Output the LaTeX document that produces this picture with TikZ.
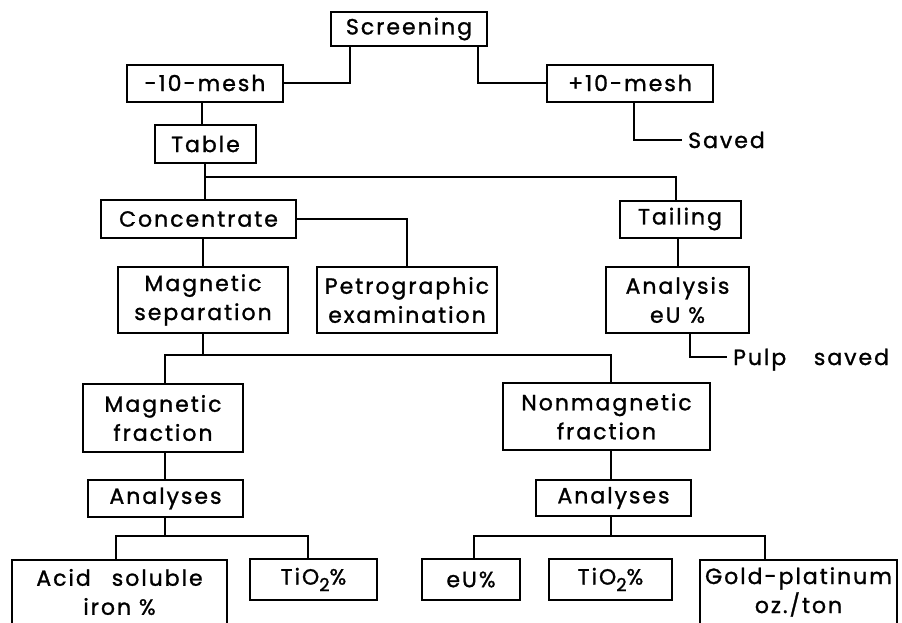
\documentclass[tikz,border=0pt]{standalone}
\usepackage{fontspec}
\usepackage{tikz}
\usetikzlibrary{positioning,calc}
\newfontfamily\letfont[LetterSpace=9,FakeBold=1.2]{Poppins}
\tikzset{
  procbox/.style={rectangle, draw=black, line width=2pt, align=center, inner sep=0pt, font=\letfont\fontsize{22}{29}\selectfont},
  freelbl/.style={inner xsep=6pt, inner ysep=0pt, text height=16pt, text depth=0pt, anchor=west, font=\letfont\fontsize{22}{29}\selectfont},
  linkline/.style={line width=2pt}
}
\newcommand{\tiox}{TiO\raisebox{-0.55ex}{\fontsize{18}{18}\selectfont 2}\%}

\begin{document}
\begin{tikzpicture}[x=1pt, y=-1pt]
\useasboundingbox (0,0) rectangle (902,622);
\clip (0,0) rectangle (902,622);
% top: screening
\node[procbox, minimum width=156pt, minimum height=34pt] (screen) at (409,29) {Screening};
\node[procbox, minimum width=156pt, minimum height=37pt] (minus) at (205,83) {-10-mesh};
\node[procbox, minimum width=166pt, minimum height=37pt] (plus) at (630,83) {+10-mesh};
\node[freelbl] (saved) at (682,140) {Saved};
\node[procbox, minimum width=101pt, minimum height=38pt] (table) at (205.5,144) {Table};
% concentrate / tailing
\node[procbox, minimum width=195pt, minimum height=38pt] (conc) at (198.5,219) {Concentrate};
\node[procbox, minimum width=121pt, minimum height=37pt] (tail) at (680,219) {Tailing};
\node[procbox, minimum width=170pt, minimum height=66pt] (magsep) at (203,300) {Magnetic\\separation};
\node[procbox, minimum width=180pt, minimum height=66pt] (petro) at (407,300) {Petrographic\\examination};
\node[procbox, minimum width=143pt, minimum height=66pt] (anal) at (677.5,300) {Analysis\\eU \%};
\node[freelbl] (pulp) at (727,357) {Pulp\hspace{0.9em} saved};
% fractions
\node[procbox, minimum width=160pt, minimum height=68pt] (magfr) at (163,418) {Magnetic\\fraction};
\node[procbox, minimum width=207pt, minimum height=67pt] (nonmag) at (606.5,416.5) {Nonmagnetic\\fraction};
\node[procbox, minimum width=155pt, minimum height=37pt] (anaL) at (165.5,498.5) {Analyses};
\node[procbox, minimum width=155pt, minimum height=36pt] (anaR) at (613.5,498) {Analyses};
% results
\node[procbox, minimum width=215pt, minimum height=64pt, anchor=north] (acid) at (119.5,559) {Acid\hspace{0.6em} soluble\\iron \%};
\node[procbox, minimum width=127pt, minimum height=41pt] (tiL) at (313.5,579.5) {\tiox};
\node[procbox, minimum width=98pt, minimum height=41pt] (eu) at (471,579.5) {eU\%};
\node[procbox, minimum width=123pt, minimum height=41pt] (tiR) at (610.5,579.5) {\tiox};
\node[procbox, minimum width=197pt, minimum height=64pt, anchor=north] (gold) at (798.5,559) {Gold-platinum\\oz./ton};
\coordinate (jT) at (205,177);
\coordinate (jM) at (203,355);
\coordinate (jL) at (165,536);
\coordinate (jR) at (611,536);
% connectors
\draw[linkline] ([xshift=-59pt]screen.south) |- (minus.east);
\draw[linkline] ([xshift=69pt]screen.south) |- (plus.west);
\draw[linkline] ([xshift=4pt]plus.south) |- (saved.west);
\draw[linkline] ([xshift=-3pt]minus.south) -- ([xshift=-3pt]minus.south |- table.north);
\draw[linkline] (jT |- table.south) -- (jT);
\draw[linkline] (conc.north -| jT) -- (jT) -| ([xshift=-4pt]tail.north);
\draw[linkline] (conc.east) -| (petro.north);
\draw[linkline] (magsep.north |- conc.south) -- (magsep.north);
\draw[linkline] (anal.north |- tail.south) -- (anal.north);
\draw[linkline] ([xshift=12.5pt]anal.south) |- (pulp.west);
\draw[linkline] (magsep.south) -- (jM);
\draw[linkline] ([xshift=2pt]magfr.north) |- (jM) -| ([xshift=4.5pt]nonmag.north);
\draw[linkline] (jL |- magfr.south) -- (jL |- anaL.north);
\draw[linkline] (jR |- nonmag.south) -- (jR |- anaR.north);
\draw[linkline] (jL |- anaL.south) -- (jL);
\draw[linkline] ([xshift=-3.5pt]acid.north) |- (jL) -| ([xshift=-5.5pt]tiL.north);
\draw[linkline] (jR |- anaR.south) -- (jR);
\draw[linkline] ([xshift=3pt]eu.north) |- (jR) -| ([xshift=-33.5pt]gold.north);
\end{tikzpicture}
\end{document}
